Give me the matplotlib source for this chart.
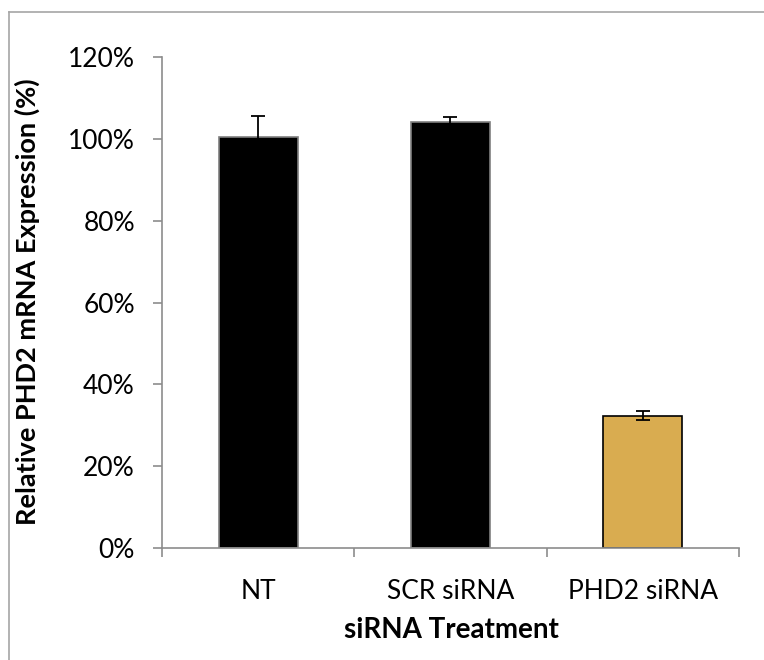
import matplotlib
matplotlib.use("Agg")
import matplotlib.pyplot as plt
from matplotlib.lines import Line2D
from matplotlib.ticker import FuncFormatter, FixedLocator

categories = ["NT", "SCR siRNA", "PHD2 siRNA"]
values = [100.5, 104.1, 32.3]
errors = [5.2, 1.3, 1.1]
bar_colors = ["#000000", "#000000", "#D9AC50"]
edge_colors = ["#7f7f7f", "#7f7f7f", "#000000"]
y_ticks = [0, 20, 40, 60, 80, 100, 120]

plt.rcParams['font.family'] = ['Lato', 'DejaVu Sans']

fig = plt.figure(figsize=(7.64, 6.6), dpi=100)
bx = 9 / 764
by = 1 - 11.5 / 660
fig.lines.append(Line2D([bx, bx], [0, by], transform=fig.transFigure, color="#a6a6a6", linewidth=1.2))
fig.lines.append(Line2D([bx, 1.0], [by, by], transform=fig.transFigure, color="#a6a6a6", linewidth=1.2))

ax = fig.add_axes([162/764, 1 - 548/660, 577/764, (548 - 57.3)/660])
x = range(len(categories))
ax.bar(x, values, width=0.41, color=bar_colors, edgecolor=edge_colors, linewidth=1.2, zorder=2)
ax.errorbar(x, values, yerr=errors, fmt="none", ecolor="#000000", elinewidth=1.3,
            capsize=4.7, capthick=1.3, zorder=3)

ax.set_xlim(-0.5, 2.5)
ax.set_ylim(0, 120)
ax.set_yticks(y_ticks)
ax.yaxis.set_major_formatter(FuncFormatter(lambda v, p: f"{int(v)}%"))
ax.set_xticks(list(x))
ax.set_xticklabels(categories)
ax.xaxis.set_minor_locator(FixedLocator([-0.5, 0.5, 1.5, 2.5]))

for s in ["top", "right"]:
    ax.spines[s].set_visible(False)
for s in ["left", "bottom"]:
    ax.spines[s].set_color("#8c8c8c")
    ax.spines[s].set_linewidth(1.2)

ax.tick_params(axis="y", which="major", length=6.5, width=1.2, color="#8c8c8c",
               labelsize=19, pad=13, direction="out")
ax.tick_params(axis="x", which="major", length=0, labelsize=19, pad=22)
ax.tick_params(axis="x", which="minor", length=6.5, width=1.2, color="#8c8c8c", direction="out")

fig.text(451/764, 1 - 630/660, "siRNA Treatment", ha="center", va="center",
         fontsize=20, fontweight="bold")
fig.text(27/764, 1 - 302/660, "Relative PHD2 mRNA Expression (%)", ha="center", va="center",
         rotation=90, fontsize=19.5, fontweight="bold")

fig.savefig("out.png", dpi=100)
